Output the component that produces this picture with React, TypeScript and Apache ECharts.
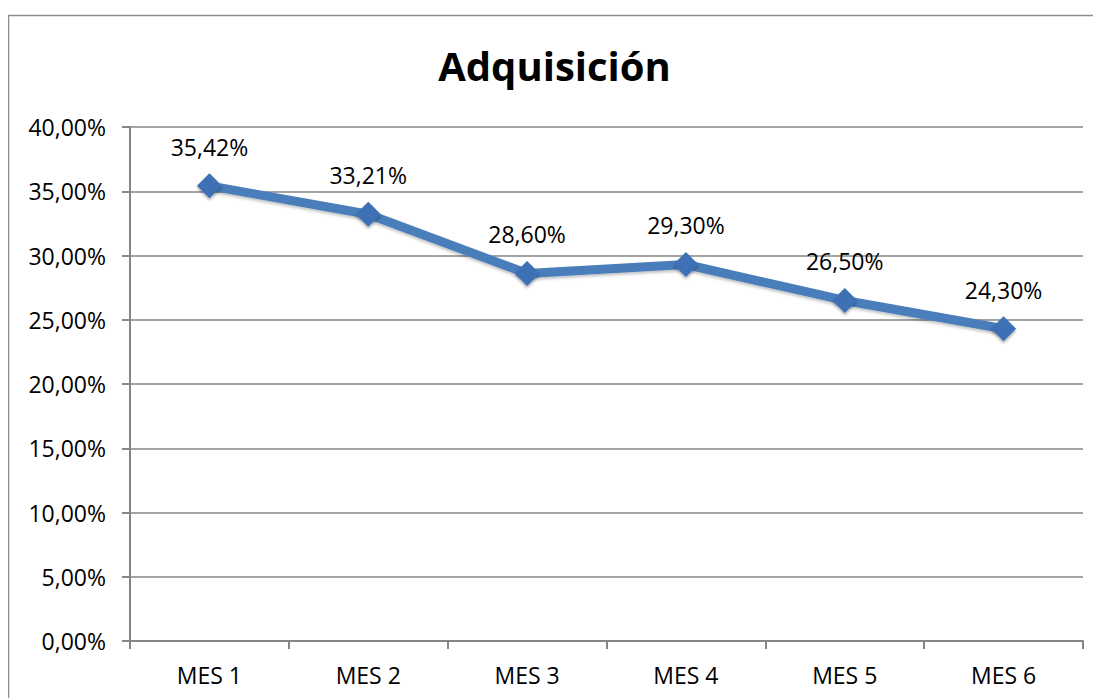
import React, { useEffect, useRef } from "react";
import * as echarts from "echarts";

const TITLE = "Adquisición";
const categories = ["MES 1", "MES 2", "MES 3", "MES 4", "MES 5", "MES 6"];
const values = [35.42, 33.21, 28.6, 29.3, 26.5, 24.3];
const yMin = 0;
const yMax = 40;
const yInterval = 5;

const fmt = (v: number) => v.toFixed(2).replace(".", ",") + "%";
const FONT = "'Open Sans', Lato, sans-serif";

export default function App() {
  const ref = useRef<HTMLDivElement>(null);
  useEffect(() => {
    if (!ref.current) return;
    const chart = echarts.init(ref.current, undefined, { renderer: "svg" });
    chart.setOption({
      animation: false,
      backgroundColor: "#fff",
      title: {
        text: TITLE,
        left: "center",
        top: 32,
        textStyle: { fontFamily: FONT, fontSize: 40, fontWeight: "bold", color: "#000" },
      },
      graphic: [
        {
          type: "polyline",
          shape: { points: [[0.5, 700], [0.5, 7.5], [1100, 7.5]] },
          style: { stroke: "#8c8c8c", lineWidth: 1.5, fill: "none" },
          silent: true,
        },
      ],
      grid: { left: 122, right: 18, top: 119, bottom: 57, containLabel: false },
      xAxis: {
        type: "category",
        data: categories,
        boundaryGap: true,
        axisLine: { show: true, lineStyle: { color: "#868686", width: 2 } },
        axisTick: { show: true, length: 8, lineStyle: { color: "#868686", width: 2 } },
        axisLabel: { margin: 22, fontFamily: FONT, fontSize: 23, color: "#000" },
        splitLine: { show: false },
      },
      yAxis: {
        type: "value",
        min: yMin,
        max: yMax,
        interval: yInterval,
        axisLine: { show: true, lineStyle: { color: "#868686", width: 2 } },
        axisTick: { show: true, length: 8, lineStyle: { color: "#868686", width: 2 } },
        axisLabel: {
          margin: 24,
          fontFamily: FONT,
          fontSize: 23,
          color: "#000",
          formatter: (v: number) => fmt(v),
        },
        splitLine: { show: true, lineStyle: { color: "#868686", width: 1.5 } },
      },
      series: [
        {
          type: "line",
          data: values,
          symbol: "diamond",
          symbolSize: 25,
          lineStyle: { color: "#4a7ebb", width: 9, shadowColor: "rgba(0,0,0,0.25)", shadowBlur: 3, shadowOffsetY: 2 },
          itemStyle: { color: "#3d70b5", shadowColor: "rgba(0,0,0,0.35)", shadowBlur: 3, shadowOffsetY: 2 },
          label: {
            show: true,
            position: "top",
            distance: 15,
            fontFamily: FONT,
            fontSize: 23,
            color: "#000",
            formatter: (p: any) => fmt(p.value),
          },
        },
      ],
    });
    return () => chart.dispose();
  }, []);
  return <div ref={ref} style={{ width: 1093, height: 690 }} />;
}
